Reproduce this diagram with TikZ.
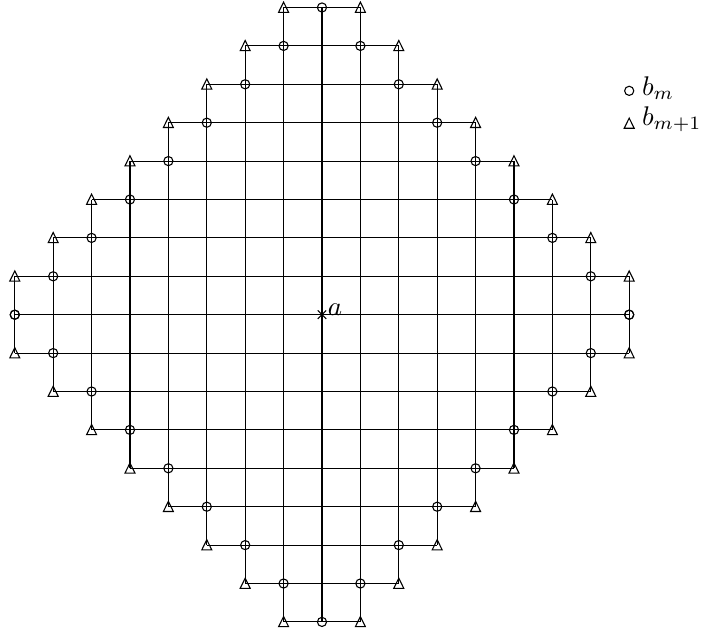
\documentclass[tikz,border=0pt]{standalone}
\begin{document}
\begin{tikzpicture}[x=0.5cm,y=0.5cm,line width=0.4pt,
  gridline/.style={draw=black},
  circmark/.style={draw=black,circle,inner sep=0pt,minimum size=3.4pt},
  lbl/.style={anchor=base west,inner sep=0pt}]
\useasboundingbox (-8.385,-8.247) rectangle (9.948,8.195);
\newcommand{\trimark}[2]{\draw (#1,#2) ++(-0.13,-0.125) -- ++(0.26,0) -- ++(-0.13,0.265) -- cycle;}
% horizontal lines
\foreach \j in {-8,...,8}{
  \pgfmathtruncatemacro\n{min(8,9-abs(\j))}
  \draw[gridline] (-\n,\j) -- (\n,\j);
}
% vertical lines
\foreach \i in {-8,...,8}{
  \pgfmathtruncatemacro\n{min(8,9-abs(\i))}
  \draw[gridline] (\i,-\n) -- (\i,\n);
}
% circle markers b_m
\foreach \i in {-8,...,8}{
  \pgfmathtruncatemacro\m{8-abs(\i)}
  \node[circmark] at (\i,\m) {};
  \node[circmark] at (\i,-\m) {};
}
% triangle markers b_{m+1}
\foreach \i in {-8,...,-1,1,2,...,8}{
  \pgfmathtruncatemacro\m{9-abs(\i)}
  \trimark{\i}{\m}
  \trimark{\i}{-\m}
}
% centre point a
\coordinate (a) at (0,0);
\draw ([shift={(-0.11,-0.11)}]a) -- ([shift={(0.11,0.11)}]a);
\draw ([shift={(-0.11,0.11)}]a) -- ([shift={(0.11,-0.11)}]a);
\node[lbl] (alab) at (0.14,-0.02) {$a$};
% legend
\node[circmark] (lc) at (8.0,5.83) {};
\node[lbl] (lbm) at (8.32,5.703) {$b_m$};
\trimark{8.0}{4.98}
\node[lbl] (lbm1) at (8.32,4.922) {$b_{m+1}$};
\end{tikzpicture}
\end{document}
